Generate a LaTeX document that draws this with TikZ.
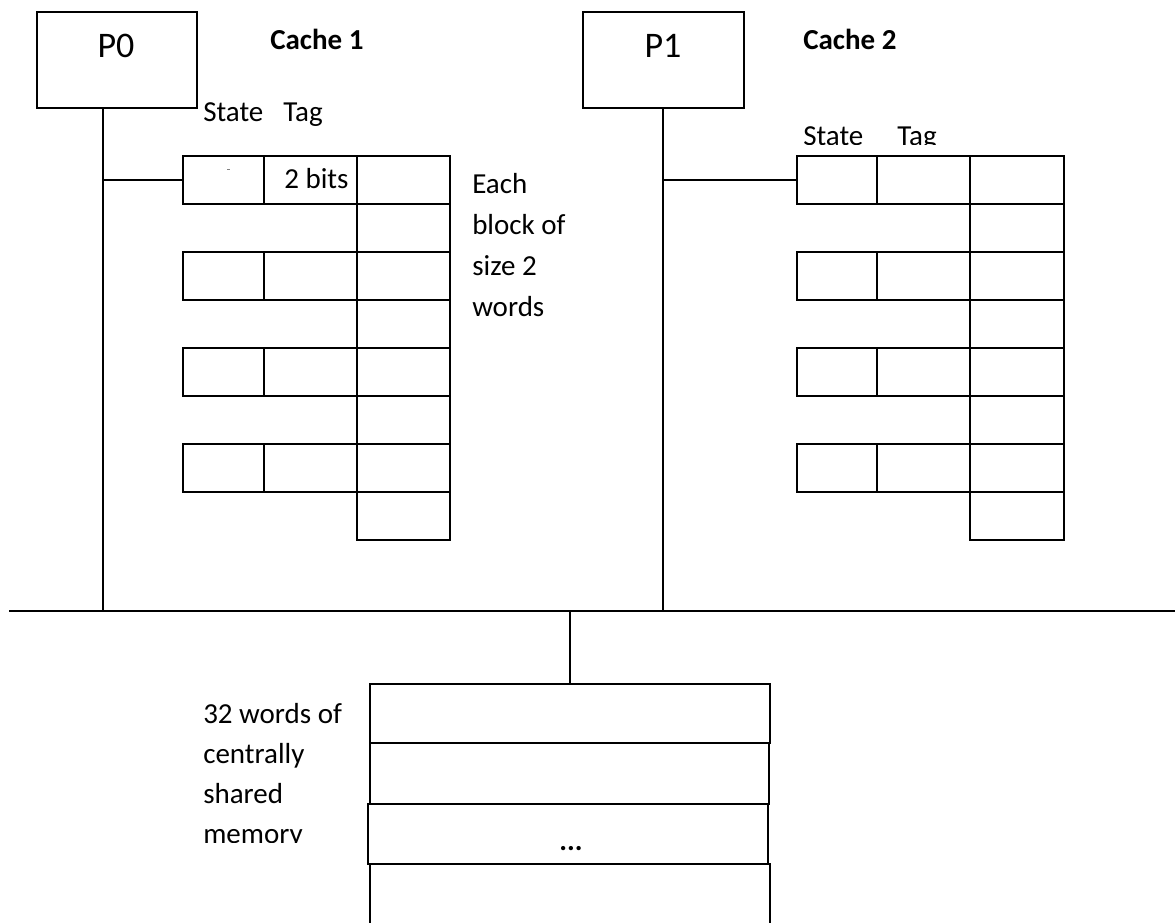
\documentclass[tikz,border=0pt]{standalone}
\usepackage{fontspec}
\setmainfont{Carlito}
\begin{document}
\def\u{0.75pt}
\begin{tikzpicture}[x=0.75pt,y=-0.75pt,
  wire/.style={line width=1.4pt, black},
  cellbox/.style={draw, line width=1.4pt, inner sep=0pt, anchor=north west, minimum height=48*\u},
  procbox/.style={draw, line width=1.4pt, inner sep=0pt, anchor=north west, minimum height=96*\u},
  membox/.style={draw, line width=1.4pt, inner sep=0pt, anchor=north west, minimum width=400*\u},
  txt/.style={inner sep=0pt, anchor=base west, font=\fontsize{21.75}{26}\selectfont},
  ttl/.style={inner sep=0pt, anchor=base west, font=\fontsize{21.75}{26}\selectfont\bfseries},
  plabel/.style={inner sep=0pt, anchor=base, font=\fontsize{27}{32}\selectfont}]
\useasboundingbox (0,0) rectangle (1175,922);

% processors
\node[procbox, minimum width=160*\u] (p0) at (36,11) {};
\node[plabel] (p0t) at (116,57) {P0};
\node[procbox, minimum width=161*\u] (p1) at (582,11) {};
\node[plabel] (p1t) at (663,57) {P1};

% cache titles and field labels
\node[ttl] (c1title) at (270,49) {Cache 1};
\node[ttl] (c2title) at (803,49) {Cache 2};
\node[txt] (c1state) at (203,121) {State};
\node[txt] (c1tag) at (283,121) {Tag};
\begin{scope}
  \clip (780,100) rectangle (1000,144.5);
  \node[txt] (c2state) at (803,145) {State};
  \node[txt] (c2tag) at (897,145) {Tag};
\end{scope}

% cache 1: state / tag cells and data words
\foreach \k/\y in {0/155,1/251,2/347,3/443} {
  \node[cellbox, minimum width=81*\u] (c1s\k) at (182,\y) {};
  \node[cellbox, minimum width=93*\u] (c1t\k) at (263,\y) {};
}
\foreach \k in {0,...,7} {
  \node[cellbox, minimum width=93*\u] (c1d\k) at (356,155+48*\k) {};
}
\node[txt] (bits) at (284,188) {2 bits};
\draw[gray, line width=0.6pt] (227,169) -- (230,169);

% cache 2: state / tag cells and data words
\foreach \k/\y in {0/155,1/251,2/347,3/443} {
  \node[cellbox, minimum width=80*\u] (c2s\k) at (796,\y) {};
  \node[cellbox, minimum width=93*\u] (c2t\k) at (876,\y) {};
}
\foreach \k in {0,...,7} {
  \node[cellbox, minimum width=94*\u] (c2d\k) at (969,155+48*\k) {};
}

% block size note
\node[txt] (n1) at (472,193) {Each};
\node[txt] (n2) at (472,234) {block of};
\node[txt] (n3) at (472,275) {size 2};
\node[txt] (n4) at (472,316) {words};

% bus and connections
\coordinate (busL) at (9,611);
\coordinate (busR) at (1175,611);
\coordinate (p0s) at (103,107);
\coordinate (p1s) at (663,107);
\draw[wire] (busL) -- (busR);
\draw[wire] (p0s) -- (p0s |- busL);
\draw[wire] (p1s) -- (p1s |- busL);
\draw[wire] (p0s |- c1s0.west) -- (c1s0.west);
\draw[wire] (p1s |- c2s0.west) -- (c2s0.west);

% shared memory
\node[membox, minimum height=59*\u] (m0) at (369,683) {};
\node[membox, minimum height=61*\u, minimum width=399*\u] (m1) at (369,742) {};
\node[membox, minimum height=60*\u] (m2) at (367,803) {};
\node[membox, minimum height=120*\u] (m3) at (369,863) {};
\node[inner sep=0pt, anchor=base, font=\fontsize{21.75}{26}\selectfont\bfseries] (dots) at (571,850) {...};
\draw[wire] (m0.north |- busL) -- (m0.north);

\begin{scope}
  \clip (190,690) rectangle (360,842);
  \node[txt] (w1) at (203,723) {32 words of};
  \node[txt] (w2) at (203,763) {centrally};
  \node[txt] (w3) at (203,803) {shared};
  \node[txt] (w4) at (203,843) {memory};
\end{scope}
\end{tikzpicture}
\end{document}
